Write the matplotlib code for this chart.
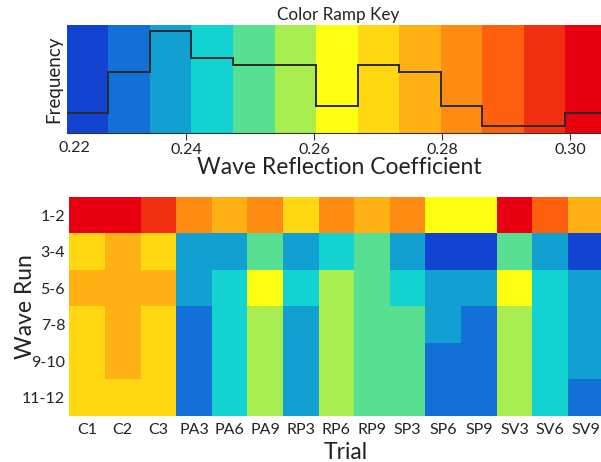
import numpy as np
import matplotlib
matplotlib.use("Agg")
import matplotlib.pyplot as plt
from matplotlib.colors import ListedColormap, BoundaryNorm

plt.rcParams['font.family'] = ['Lato', 'DejaVu Sans']

# colour classes of the reflection coefficient (low -> high)
bin_edges = [0.2213, 0.2278, 0.2343, 0.2408, 0.2473, 0.2538, 0.2603,
             0.2668, 0.2733, 0.2798, 0.2863, 0.2928, 0.2993, 0.3058]
ramp_colors = ['#1242d0', '#1270d6', '#12a0d2', '#12d2d2', '#58e092', '#a8ee50',
               '#ffff12', '#ffd812', '#ffb012', '#ff8c12', '#ff6010', '#f03010', '#e80010']

trials = ['C1', 'C2', 'C3', 'PA3', 'PA6', 'PA9', 'RP3', 'RP6', 'RP9',
          'SP3', 'SP6', 'SP9', 'SV3', 'SV6', 'SV9']
wave_runs = ['1-2', '3-4', '5-6', '7-8', '9-10', '11-12']

# class index per wave run (rows) and trial (columns)
run_1_2   = [12, 12, 11, 9, 8, 9, 7, 9, 8, 9, 6, 6, 12, 10, 8]
run_3_4   = [7, 8, 7, 2, 2, 4, 2, 3, 4, 2, 0, 0, 4, 2, 0]
run_5_6   = [8, 8, 8, 2, 3, 6, 3, 5, 4, 3, 2, 2, 6, 3, 2]
run_7_8   = [7, 8, 7, 1, 3, 5, 2, 5, 4, 4, 2, 1, 5, 3, 2]
run_9_10  = [7, 8, 7, 1, 3, 5, 2, 5, 4, 4, 1, 1, 5, 3, 2]
run_11_12 = [7, 7, 7, 1, 3, 5, 2, 5, 4, 4, 1, 1, 5, 3, 1]

grid = np.array([run_1_2, run_3_4, run_5_6, run_7_8, run_9_10, run_11_12])
edges = np.array(bin_edges)
freq = np.bincount(grid.ravel(), minlength=len(ramp_colors))

txt = '#222222'
fig = plt.figure(figsize=(6.01, 4.62), dpi=100)

# --- colour ramp key with histogram of classes ---
ax1 = fig.add_axes([0.111, 0.7121, 0.899, 0.2338])
ax1.bar(edges[:-1], 16, width=np.diff(edges), align='edge', color=ramp_colors,
        linewidth=0)
ax1.stairs(freq, edges, baseline=None, color='#2b2b2b', lw=1.4)
ax1.set_xlim(edges[0], edges[-1])
ax1.set_ylim(0, 15.9)
ax1.set_yticks([])
for s in ['top', 'right', 'left']:
    ax1.spines[s].set_visible(False)
ax1.spines['bottom'].set_color('#333333')
ax1.set_xticks([0.24, 0.26, 0.28, 0.30])
ax1.set_xticklabels(['0.24', '0.26', '0.28', '0.30'])
ax1.tick_params(axis='x', length=5, width=0.8, color='#333333', labelsize=11.5,
                pad=2, labelcolor=txt)
ax1.text(0.2225, -0.07, '0.22', transform=ax1.get_xaxis_transform(),
         ha='center', va='top', fontsize=11.5, color=txt)
ax1.set_ylabel('Frequency', fontsize=13.5, color=txt)
ax1.yaxis.set_label_coords(-0.009, 0.5)
ax1.set_xlabel('Wave Reflection Coefficient', fontsize=16.5, color=txt, va='center')
ax1.xaxis.set_label_coords(0.505, -0.315)
fig.text(338 / 601, 1 - 15 / 462, 'Color Ramp Key', ha='center', va='center',
         fontsize=12.3, color=txt)

# --- heatmap of classes ---
ax2 = fig.add_axes([0.1153, 0.0996, 0.889, 0.474])
cmap = ListedColormap(ramp_colors)
norm = BoundaryNorm(np.arange(-0.5, len(ramp_colors)), cmap.N)
ax2.pcolormesh(grid, cmap=cmap, norm=norm)
ax2.set_xlim(0, len(trials))
ax2.set_ylim(len(wave_runs), 0)
ax2.set_xticks(np.arange(len(trials)) + 0.5)
ax2.set_xticklabels(trials)
ax2.set_yticks(np.arange(len(wave_runs)) + 0.5)
ax2.set_yticklabels(wave_runs)
ax2.tick_params(length=0, labelsize=11.5, labelcolor=txt)
ax2.tick_params(axis='x', pad=5)
ax2.tick_params(axis='y', pad=3)
for s in ax2.spines.values():
    s.set_visible(False)
ax2.set_xlabel('Trial', fontsize=16.5, color=txt, va='center')
ax2.xaxis.set_label_coords(0.517, -0.165)
ax2.set_ylabel('Wave Run', fontsize=16.5, color=txt)
ax2.yaxis.set_label_coords(-0.062, 0.5)

fig.savefig('out.png', dpi=100)
